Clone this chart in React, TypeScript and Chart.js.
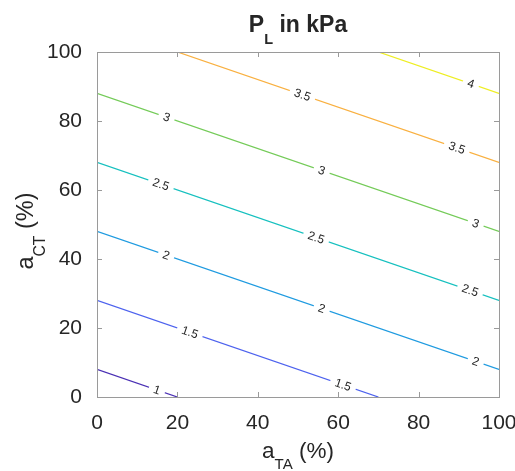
import React, { useEffect, useRef } from "react";
import { Chart, registerables } from "chart.js";
Chart.register(...registerables);

// Contour levels (P_L in kPa) and the end points of each straight contour line (aTA %, aCT %)
const levels = [1, 1.5, 2, 2.5, 3, 3.5, 4];
const lineStartX = [0, 0, 0, 0, 0, 20, 70];
const lineStartY = [8, 28, 48, 68, 88, 100, 100];
const lineEndX = [20, 70, 100, 100, 100, 100, 100];
const lineEndY = [0, 0, 8, 28, 48, 68, 88];
const levelColors = ["#4a30b4", "#4d62ee", "#1f9be0", "#16c0bf", "#74cb58", "#f9b040", "#eeee22"];

// Inline contour labels: level and aTA position
const labelLevels = [1, 1.5, 1.5, 2, 2, 2, 2.5, 2.5, 2.5, 3, 3, 3, 3.5, 3.5, 4];
const labelX = [14.9, 23.1, 61.2, 17.2, 55.9, 94.2, 15.9, 54.5, 92.8, 17.3, 55.9, 94.2, 51.1, 89.5, 93];

const xTicks = [0, 20, 40, 60, 80, 100];
const yTicks = [0, 20, 40, 60, 80, 100];

const FONT = '"Liberation Sans", Arial, Helvetica, sans-serif';
const TEXT = "#262626";
const AXIS = "#9a9a9a";

const decor = {
  id: "decor",
  afterDatasetsDraw(chart: any) {
    const { ctx, scales } = chart;
    const xs = scales.x, ys = scales.y;
    ctx.save();
    labelLevels.forEach((lv, i) => {
      const li = levels.indexOf(lv);
      const x1 = xs.getPixelForValue(lineStartX[li]);
      const y1 = ys.getPixelForValue(lineStartY[li]);
      const x2 = xs.getPixelForValue(lineEndX[li]);
      const y2 = ys.getPixelForValue(lineEndY[li]);
      const px = xs.getPixelForValue(labelX[i]);
      const t = (px - x1) / (x2 - x1);
      const py = y1 + t * (y2 - y1);
      const ang = Math.atan2(y2 - y1, x2 - x1);
      ctx.save();
      ctx.translate(px, py);
      ctx.rotate(ang);
      ctx.font = `12px ${FONT}`;
      const txt = String(lv);
      const w = ctx.measureText(txt).width;
      ctx.fillStyle = "#ffffff";
      ctx.fillRect(-w / 2 - 5, -4, w + 10, 8);
      ctx.fillStyle = TEXT;
      ctx.textAlign = "center";
      ctx.textBaseline = "middle";
      ctx.fillText(txt, 0, 0.5);
      ctx.restore();
    });
    ctx.restore();
  },
  afterDraw(chart: any) {
    const { ctx, chartArea, scales } = chart;
    const xs = scales.x, ys = scales.y;
    const { left, right, top, bottom } = chartArea;
    ctx.save();
    // box
    ctx.strokeStyle = AXIS;
    ctx.lineWidth = 1;
    ctx.strokeRect(Math.round(left) + 0.5, Math.round(top) + 0.5, Math.round(right - left), Math.round(bottom - top));
    // inward ticks
    const tl = 5;
    ctx.beginPath();
    xTicks.forEach((v) => {
      const p = Math.round(xs.getPixelForValue(v)) + 0.5;
      ctx.moveTo(p, bottom); ctx.lineTo(p, bottom - tl);
      ctx.moveTo(p, top); ctx.lineTo(p, top + tl);
    });
    yTicks.forEach((v) => {
      const p = Math.round(ys.getPixelForValue(v)) + 0.5;
      ctx.moveTo(left, p); ctx.lineTo(left + tl, p);
      ctx.moveTo(right, p); ctx.lineTo(right - tl, p);
    });
    ctx.stroke();

    ctx.fillStyle = TEXT;
    ctx.textBaseline = "alphabetic";
    ctx.textAlign = "left";
    const cx = (left + right) / 2;

    // Title: P_L in kPa
    {
      const big = `bold 23px ${FONT}`, small = `bold 14.5px ${FONT}`;
      ctx.font = big; const w1 = ctx.measureText("P").width;
      ctx.font = small; const w2 = ctx.measureText("L").width;
      ctx.font = big; const w3 = ctx.measureText(" in kPa").width;
      let x = cx - (w1 + w2 + w3) / 2;
      const base = 32;
      ctx.font = big; ctx.fillText("P", x, base); x += w1;
      ctx.font = small; ctx.fillText("L", x, base + 11.5); x += w2;
      ctx.font = big; ctx.fillText(" in kPa", x, base);
    }
    const drawSub = (main: string, sub: string, rest: string, x0: number, base: number, size: number) => {
      const big = `${size}px ${FONT}`, small = `${size * 0.67}px ${FONT}`;
      ctx.font = big; const w1 = ctx.measureText(main).width;
      ctx.font = small; const w2 = ctx.measureText(sub).width;
      ctx.font = big; const w3 = ctx.measureText(rest).width;
      let x = x0 - (w1 + w2 + w3) / 2;
      ctx.font = big; ctx.fillText(main, x, base); x += w1;
      ctx.font = small; ctx.fillText(sub, x, base + size * 0.49); x += w2;
      ctx.font = big; ctx.fillText(rest, x, base);
    };
    // X title: a_TA (%)
    drawSub("a", "TA", " (%)", cx, 458, 22.5);
    // Y title: a_CT (%)
    ctx.save();
    ctx.translate(33, 231);
    ctx.rotate(-Math.PI / 2);
    drawSub("a", "CT", " (%)", 0, 0, 23.5);
    ctx.restore();
    ctx.restore();
  },
};

export default function App() {
  const ref = useRef<HTMLCanvasElement | null>(null);
  useEffect(() => {
    if (!ref.current) return;
    const datasets = levels.map((lv, i) => ({
      label: String(lv),
      data: [
        { x: lineStartX[i], y: lineStartY[i] },
        { x: lineEndX[i], y: lineEndY[i] },
      ],
      borderColor: levelColors[i],
      backgroundColor: levelColors[i],
      borderWidth: 1.3,
      pointRadius: 0,
      fill: false,
      tension: 0,
    }));
    const chart = new Chart(ref.current, {
      type: "line",
      data: { datasets },
      options: {
        animation: false,
        responsive: false,
        maintainAspectRatio: false,
        layout: { padding: { top: 52, right: 16, left: 0, bottom: 0 } },
        plugins: { legend: { display: false }, tooltip: { enabled: false }, title: { display: false } },
        scales: {
          x: {
            type: "linear",
            min: 0,
            max: 100,
            grid: { display: false },
            border: { display: false },
            ticks: {
              stepSize: 20,
              color: TEXT,
              padding: 6,
              maxRotation: 0,
              autoSkip: false,
              font: { family: FONT, size: 21 },
            },
            afterFit: (s: any) => {
              s.height = 74;
              s.paddingLeft = 0;
              s.paddingRight = 0;
            },
          },
          y: {
            type: "linear",
            min: 0,
            max: 100,
            grid: { display: false },
            border: { display: false },
            ticks: {
              stepSize: 20,
              color: TEXT,
              padding: 7,
              autoSkip: false,
              font: { family: FONT, size: 21 },
            },
            afterFit: (s: any) => {
              s.width = 97;
              s.paddingTop = 0;
              s.paddingBottom = 0;
            },
          },
        },
      },
      plugins: [decor],
    });
    return () => chart.destroy();
  }, []);
  return (
    <div style={{ position: "absolute", left: 0, top: 0, width: 515, height: 471, background: "#fff" }}>
      <canvas ref={ref} width={515} height={471} style={{ width: 515, height: 471, display: "block" }} />
    </div>
  );
}
